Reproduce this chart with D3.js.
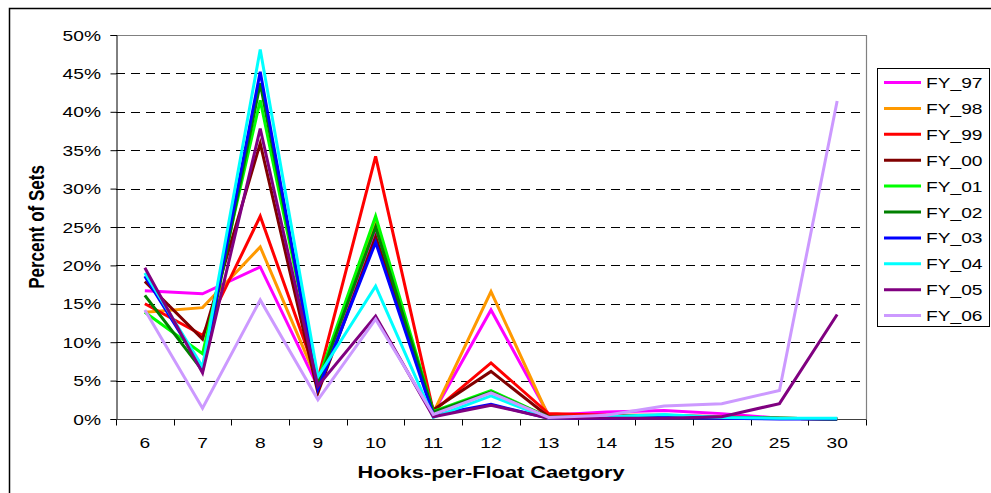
<!DOCTYPE html>
<html>
<head>
<meta charset="utf-8">
<script src="https://cdn.jsdelivr.net/npm/d3@7"></script>
<style>
  html, body { margin: 0; padding: 0; background: #fff; }
  svg { display: block; }
  text { font-family: "Liberation Sans", Arial, sans-serif; fill: #000; }
</style>
</head>
<body>
<svg id="chart" width="991" height="493"></svg>
<script>
// Hooks-per-float categories on the x axis
const categories = ["6", "7", "8", "9", "10", "11", "12", "13", "14", "15", "20", "25", "30"];

// Percent of sets per fiscal year
const seriesNames = ["FY_97", "FY_98", "FY_99", "FY_00", "FY_01", "FY_02", "FY_03", "FY_04", "FY_05", "FY_06"];
const fy97 = [16.7, 16.3, 19.8, 4.2, 24.5, 0.8, 14.2, 0.5, 0.9, 1.1, 0.7, 0.1, 0.0];
const fy98 = [13.9, 14.5, 22.4, 4.8, 25.5, 0.8, 16.6, 0.3, 0.4, 0.4, 0.2, 0.1, 0.0];
const fy99 = [15.0, 10.9, 26.4, 5.2, 34.2, 1.0, 7.3, 0.7, 0.5, 0.5, 0.3, 0.1, 0.0];
const fy00 = [17.9, 10.4, 35.9, 3.4, 23.7, 1.2, 6.2, 0.3, 0.3, 0.3, 0.2, 0.1, 0.0];
const fy01 = [13.9, 8.5, 41.5, 5.0, 26.4, 1.0, 3.7, 0.2, 0.3, 0.5, 0.2, 0.1, 0.0];
const fy02 = [16.1, 6.3, 43.7, 4.6, 25.0, 0.9, 3.5, 0.2, 0.3, 0.4, 0.2, 0.1, 0.0];
const fy03 = [18.6, 6.5, 45.2, 3.9, 23.0, 0.5, 1.9, 0.1, 0.1, 0.2, 0.1, 0.0, 0.0];
const fy04 = [19.0, 6.8, 48.1, 5.5, 17.3, 0.2, 3.0, 0.1, 0.3, 0.6, 0.2, 0.1, 0.1];
const fy05 = [19.7, 6.0, 37.8, 4.3, 13.4, 0.3, 1.8, 0.1, 0.1, 0.1, 0.3, 2.0, 13.6];
const fy06 = [14.2, 1.4, 15.5, 2.5, 13.0, 0.6, 3.4, 0.2, 0.5, 1.7, 2.0, 3.7, 41.4];
const seriesValues = [fy97, fy98, fy99, fy00, fy01, fy02, fy03, fy04, fy05, fy06];
const seriesColors = ["#FF00FF", "#FF9900", "#FF0000", "#800000", "#00FF00",
                      "#008000", "#0000FF", "#00FFFF", "#800080", "#CC99FF"];

const yTicks = [0, 5, 10, 15, 20, 25, 30, 35, 40, 45, 50];

const svg = d3.select("#chart");
const SX = 1.28; // horizontal stretch applied to all lettering

const plot = { left: 116, top: 35, right: 866, bottom: 419 };

const x = d3.scaleBand().domain(categories).range([plot.left, plot.right]).padding(0);
const y = d3.scaleLinear().domain([0, 50]).range([plot.bottom, plot.top]);

// outer chart frame
svg.append("rect")
  .attr("x", 9.5).attr("y", 8.5).attr("width", 1000).attr("height", 500)
  .attr("fill", "none").attr("stroke", "#000").attr("stroke-width", 1.5);

// plot area frame (top and right edges)
svg.append("path")
  .attr("d", `M${plot.left},${plot.top + 0.5}H${plot.right + 0.5}V${plot.bottom}`)
  .attr("fill", "none").attr("stroke", "#808080").attr("stroke-width", 1.2);

// dashed gridlines
svg.append("g").selectAll("line")
  .data(yTicks.filter(t => t > 0 && t < 50))
  .join("line")
  .attr("x1", plot.left).attr("x2", plot.right)
  .attr("y1", d => Math.round(y(d)) + 0.5).attr("y2", d => Math.round(y(d)) + 0.5)
  .attr("stroke", "#000").attr("stroke-width", 1)
  .attr("stroke-dasharray", "9,6");

// y axis
const yAxis = svg.append("g")
  .attr("transform", `translate(${plot.left + 0.5},0)`)
  .call(d3.axisLeft(y).tickValues(yTicks).tickSize(6).tickFormat(""));
yAxis.select(".domain").attr("stroke", "#000").attr("stroke-width", 1);
yAxis.selectAll(".tick line").attr("stroke", "#000");

svg.append("g").selectAll("text")
  .data(yTicks)
  .join("text")
  .attr("transform", d => `translate(101,${y(d) + 5.5}) scale(${SX},1)`)
  .attr("text-anchor", "end")
  .style("font-size", "15px")
  .text(d => d + "%");

// x axis with ticks on category boundaries
const xAxis = svg.append("g")
  .attr("transform", `translate(0,${plot.bottom + 0.5})`);
xAxis.append("line")
  .attr("x1", plot.left).attr("x2", plot.right + 0.5)
  .attr("stroke", "#404040").attr("stroke-width", 1.2);
xAxis.selectAll("line.tk")
  .data(categories.concat(["end"]))
  .join("line").attr("class", "tk")
  .attr("x1", (d, i) => Math.round(plot.left + i * x.bandwidth()) + 0.5)
  .attr("x2", (d, i) => Math.round(plot.left + i * x.bandwidth()) + 0.5)
  .attr("y1", 0).attr("y2", 6)
  .attr("stroke", "#000");

svg.append("g").selectAll("text")
  .data(categories)
  .join("text")
  .attr("transform", d => `translate(${x(d) + x.bandwidth() / 2},448) scale(${SX},1)`)
  .attr("text-anchor", "middle")
  .style("font-size", "15px")
  .text(d => d);

// series lines
const line = d3.line()
  .x((d, i) => x(categories[i]) + x.bandwidth() / 2)
  .y(d => y(d));

svg.append("g").selectAll("path")
  .data(seriesValues)
  .join("path")
  .attr("d", d => line(d))
  .attr("fill", "none")
  .attr("stroke", (d, i) => seriesColors[i])
  .attr("stroke-width", 3)
  .attr("stroke-linejoin", "miter");

// axis titles
svg.append("text")
  .attr("transform", `translate(491,478) scale(${SX},1)`)
  .attr("text-anchor", "middle")
  .style("font-size", "17px").style("font-weight", "bold")
  .text("Hooks-per-Float Caetgory");

svg.append("text")
  .attr("transform", `translate(43.5,227) scale(${SX},1) rotate(-90)`)
  .attr("text-anchor", "middle")
  .style("font-size", "17px").style("font-weight", "bold")
  .text("Percent of Sets");

// legend
const legend = svg.append("g");
legend.append("rect")
  .attr("x", 877.5).attr("y", 68.5).attr("width", 112).attr("height", 258)
  .attr("fill", "#fff").attr("stroke", "#000").attr("stroke-width", 1);

const items = legend.selectAll("g.item")
  .data(seriesNames)
  .join("g").attr("class", "item")
  .attr("transform", (d, i) => `translate(0,${82.5 + i * 25.9})`);
items.append("line")
  .attr("x1", 884).attr("x2", 921)
  .attr("stroke", (d, i) => seriesColors[i]).attr("stroke-width", 3);
items.append("text")
  .attr("transform", `translate(926,5.5) scale(${SX},1)`)
  .style("font-size", "15px")
  .text(d => d);
</script>
</body>
</html>
